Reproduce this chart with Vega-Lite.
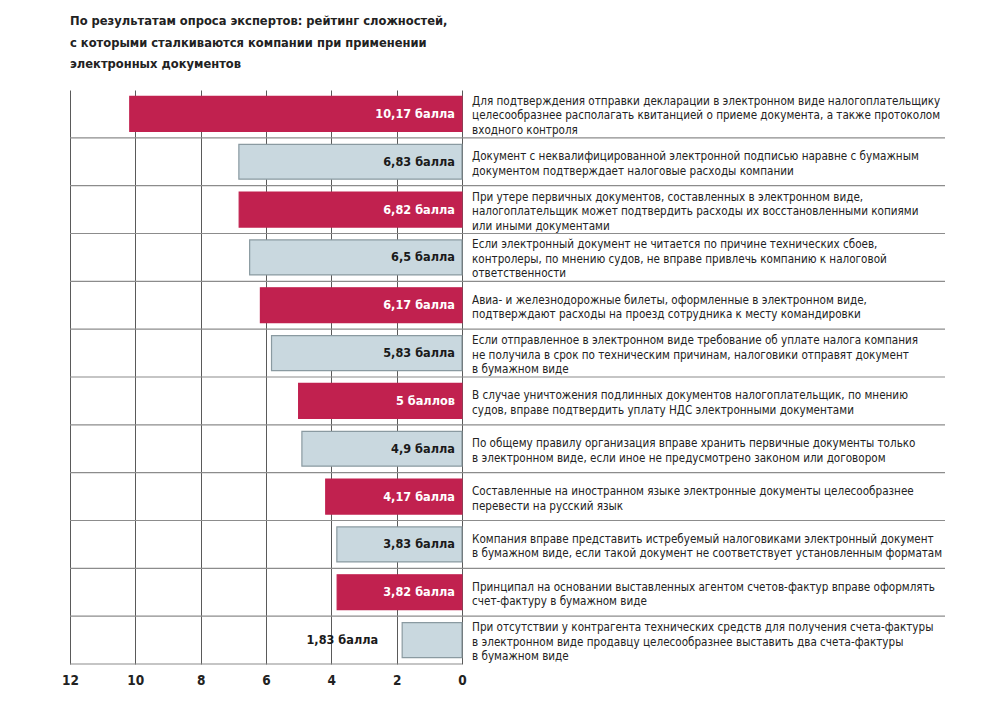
{
  "$schema": "https://vega.github.io/schema/vega-lite/v6.json",
  "autosize": {"type": "none"},
  "width": 875,
  "height": 574,
  "padding": {"left": 70, "top": 90, "right": 55, "bottom": 44},
  "background": "white",
  "title": {
    "text": ["По результатам опроса экспертов: рейтинг сложностей,", "с которыми сталкиваются компании при применении", "электронных документов"],
    "anchor": "start",
    "frame": "group",
    "fontSize": 12.8,
    "fontWeight": "bold",
    "font": "DejaVu Sans Condensed, Roboto, sans-serif",
    "color": "#222222",
    "lineHeight": 21.5,
    "offset": 19
  },
  "config": {
    "view": {"stroke": null},
    "font": "DejaVu Sans Condensed, Roboto, sans-serif"
  },
  "data": {
    "values": [
      {"rank": 1, "value": 10.17, "label": "10,17 балла", "kind": "red", "desc": ["Для подтверждения отправки декларации в электронном виде налогоплательщику", "целесообразнее располагать квитанцией о приеме документа, а также протоколом", "входного контроля"]},
      {"rank": 2, "value": 6.83, "label": "6,83 балла", "kind": "grey", "desc": ["Документ с неквалифицированной электронной подписью наравне с бумажным", "документом подтверждает налоговые расходы компании"]},
      {"rank": 3, "value": 6.82, "label": "6,82 балла", "kind": "red", "desc": ["При утере первичных документов, составленных в электронном виде,", "налогоплательщик может подтвердить расходы их восстановленными копиями", "или иными документами"]},
      {"rank": 4, "value": 6.5, "label": "6,5 балла", "kind": "grey", "desc": ["Если электронный документ не читается по причине технических сбоев,", "контролеры, по мнению судов, не вправе привлечь компанию к налоговой", "ответственности"]},
      {"rank": 5, "value": 6.17, "label": "6,17 балла", "kind": "red", "desc": ["Авиа- и железнодорожные билеты, оформленные в электронном виде,", "подтверждают расходы на проезд сотрудника к месту командировки"]},
      {"rank": 6, "value": 5.83, "label": "5,83 балла", "kind": "grey", "desc": ["Если отправленное в электронном виде требование об уплате налога компания", "не получила в срок по техническим причинам, налоговики отправят документ", "в бумажном виде"]},
      {"rank": 7, "value": 5, "label": "5 баллов", "kind": "red", "desc": ["В случае уничтожения подлинных документов налогоплательщик, по мнению", "судов, вправе подтвердить уплату НДС электронными документами"]},
      {"rank": 8, "value": 4.9, "label": "4,9 балла", "kind": "grey", "desc": ["По общему правилу организация вправе хранить первичные документы только", "в электронном виде, если иное не предусмотрено законом или договором"]},
      {"rank": 9, "value": 4.17, "label": "4,17 балла", "kind": "red", "desc": ["Составленные на иностранном языке электронные документы целесообразнее", "перевести на русский язык"]},
      {"rank": 10, "value": 3.83, "label": "3,83 балла", "kind": "grey", "desc": ["Компания вправе представить истребуемый налоговиками электронный документ", "в бумажном виде, если такой документ не соответствует установленным форматам"]},
      {"rank": 11, "value": 3.82, "label": "3,82 балла", "kind": "red", "desc": ["Принципал на основании выставленных агентом счетов-фактур вправе оформлять", "счет-фактуру в бумажном виде"]},
      {"rank": 12, "value": 1.83, "label": "1,83 балла", "kind": "grey", "desc": ["При отсутствии у контрагента технических средств для получения счета-фактуры", "в электронном виде продавцу целесообразнее выставить два счета-фактуры", "в бумажном виде"]}
    ]
  },
  "encoding": {
    "y": {"field": "rank", "type": "ordinal", "sort": "ascending", "axis": null, "scale": {"paddingInner": 0, "paddingOuter": 0}}
  },
  "layer": [
    {
      "mark": {"type": "bar", "height": {"band": 0.73}, "strokeWidth": 1.2},
      "encoding": {
        "x": {"field": "value", "type": "quantitative",
          "scale": {"domain": [-14.79, 12], "reverse": true, "nice": false, "zero": false},
          "axis": {"values": [0, 2, 4, 6, 8, 10, 12], "title": null, "domain": false, "ticks": false,
            "grid": true, "gridColor": "#5a5a5a", "gridWidth": 1, "gridOpacity": 1, "labelFlush": false,
            "labelFontSize": 13.5, "labelFontWeight": "bold", "labelColor": "#222222", "labelPadding": 9,
            "labelFont": "DejaVu Sans Condensed, Roboto, sans-serif"}},
        "x2": {"datum": 0},
        "color": {"field": "kind", "type": "nominal", "legend": null,
          "scale": {"domain": ["red", "grey"], "range": ["#c1214f", "#c9d8df"]}},
        "stroke": {"field": "kind", "type": "nominal", "legend": null,
          "scale": {"domain": ["red", "grey"], "range": ["#c1214f", "#8a9aa1"]}}
      }
    },
    {
      "transform": [{"filter": "datum.rank < 12"}],
      "mark": {"type": "rule", "color": "#8c8c8c", "strokeWidth": 1.2},
      "encoding": {
        "y": {"field": "rank", "type": "ordinal", "bandPosition": 1},
        "x": {"datum": 12},
        "x2": {"datum": -14.79}
      }
    },
    {
      "transform": [{"filter": "datum.rank == 12"}],
      "mark": {"type": "rule", "color": "#8c8c8c", "strokeWidth": 1.2},
      "encoding": {
        "y": {"field": "rank", "type": "ordinal", "bandPosition": 1},
        "x": {"datum": 12},
        "x2": {"datum": 0}
      }
    },
    {
      "transform": [{"filter": "datum.value >= 3"}],
      "mark": {"type": "text", "align": "right", "baseline": "middle", "dx": -7, "fontSize": 12.6, "fontWeight": "bold"},
      "encoding": {
        "x": {"datum": 0},
        "text": {"field": "label"},
        "color": {"condition": {"test": "datum.kind == 'red'", "value": "#ffffff"}, "value": "#1a1a1a"}
      }
    },
    {
      "transform": [{"filter": "datum.value < 3"}],
      "mark": {"type": "text", "align": "right", "baseline": "middle", "dx": -24, "fontSize": 12.6, "fontWeight": "bold", "color": "#1a1a1a"},
      "encoding": {
        "x": {"field": "value", "type": "quantitative"},
        "text": {"field": "label"}
      }
    },
    {
      "transform": [{"filter": "length(datum.desc) == 3"}],
      "mark": {"type": "text", "align": "left", "baseline": "middle", "fontSize": 11.6, "lineHeight": 14.5, "dy": -12, "color": "#222222"},
      "encoding": {
        "x": {"datum": -0.31},
        "text": {"field": "desc"}
      }
    },
    {
      "transform": [{"filter": "length(datum.desc) == 2"}],
      "mark": {"type": "text", "align": "left", "baseline": "middle", "fontSize": 11.6, "lineHeight": 14.5, "dy": -4.5, "color": "#222222"},
      "encoding": {
        "x": {"datum": -0.31},
        "text": {"field": "desc"}
      }
    }
  ]
}
